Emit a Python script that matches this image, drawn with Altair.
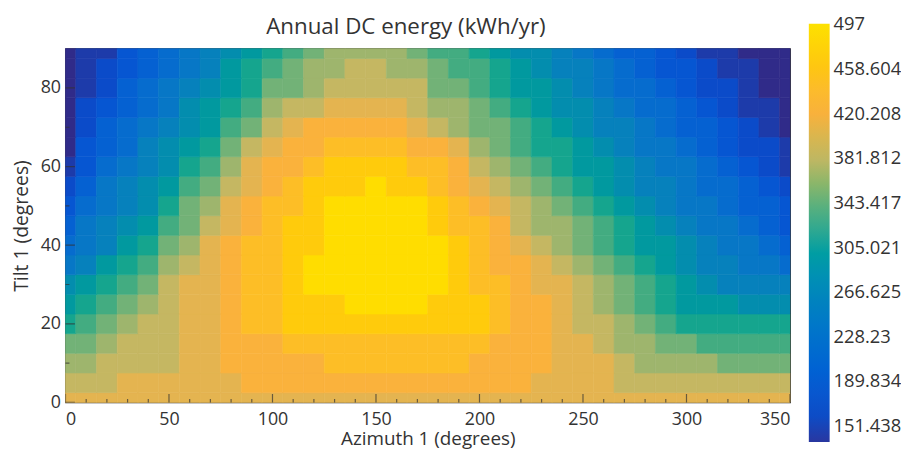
import altair as alt
import pandas as pd

# ---- grid coordinates -------------------------------------------------------
azimuth = [0, 10, 20, 30, 40, 50, 60, 70, 80, 90, 100, 110, 120, 130, 140, 150, 160, 170,
           180, 190, 200, 210, 220, 230, 240, 250, 260, 270, 280, 290, 300, 310, 320, 330, 340, 350]
tilt = [0, 5, 10, 15, 20, 25, 30, 35, 40, 45, 50, 55, 60, 65, 70, 75, 80, 85, 90]

# ---- annual DC energy (kWh/yr), one list per tilt row, azimuth 0..350 -------
e_t00 = [418] * 36
e_t05 = [392, 396, 400, 403, 406, 409, 413, 417, 420, 424, 427, 429, 430, 431, 431, 431, 431, 430,
         430, 429, 427, 424, 421, 418, 413, 407, 403, 400, 396, 393, 391, 389, 388, 388, 387, 388]
e_t10 = [371, 378, 385, 390, 394, 401, 410, 419, 424, 428, 432, 436, 438, 440, 442, 442, 442, 441,
         441, 441, 439, 433, 426, 421, 414, 407, 402, 391, 378, 370, 366, 363, 361, 360, 359, 359]
e_t15 = [346, 362, 375, 385, 392, 400, 410, 419, 426, 432, 439, 445, 450, 454, 457, 458, 457, 455,
         453, 450, 446, 439, 431, 424, 412, 403, 392, 378, 364, 354, 345, 340, 337, 335, 334, 334]
e_t20 = [320, 334, 352, 368, 383, 395, 405, 419, 430, 442, 455, 462, 468, 472, 474, 475, 475, 473,
         470, 465, 459, 448, 435, 423, 413, 401, 384, 366, 347, 329, 318, 312, 309, 308, 307, 308]
e_t25 = [297, 316, 336, 356, 374, 391, 404, 418, 430, 445, 458, 466, 472, 477, 481, 483, 482, 479,
         474, 468, 460, 449, 436, 424, 411, 396, 378, 358, 338, 318, 302, 292, 286, 283, 281, 281]
e_t30 = [267, 286, 313, 338, 362, 383, 404, 415, 429, 444, 458, 469, 479, 486, 491, 493, 492, 489,
         482, 472, 458, 443, 429, 416, 402, 385, 366, 347, 328, 309, 289, 276, 266, 259, 254, 251]
e_t35 = [241, 265, 290, 314, 340, 367, 392, 411, 427, 443, 456, 467, 478, 487, 493, 496, 495, 491,
         481, 468, 453, 438, 422, 406, 390, 374, 354, 335, 315, 298, 279, 265, 254, 245, 236, 228]
e_t40 = [217, 244, 265, 289, 318, 349, 379, 407, 425, 442, 454, 465, 477, 487, 494, 496, 496, 492,
         478, 463, 448, 432, 414, 395, 377, 362, 341, 322, 302, 286, 269, 254, 242, 231, 217, 205]
e_t45 = [200, 231, 253, 275, 301, 331, 362, 393, 416, 435, 448, 460, 473, 484, 490, 493, 491, 486,
         472, 457, 441, 421, 398, 381, 363, 346, 326, 308, 290, 274, 258, 245, 233, 220, 205, 189]
e_t50 = [183, 219, 242, 262, 285, 314, 346, 379, 408, 428, 443, 455, 469, 481, 485, 487, 485, 480,
         466, 450, 433, 410, 382, 366, 348, 330, 311, 294, 278, 262, 247, 236, 224, 208, 192, 172]
e_t55 = [165, 203, 230, 251, 272, 298, 328, 359, 393, 417, 434, 447, 460, 470, 476, 480, 476, 469,
         454, 437, 417, 392, 368, 351, 334, 316, 298, 282, 265, 251, 238, 225, 212, 195, 178, 159]
e_t60 = [148, 188, 218, 240, 260, 283, 310, 340, 378, 406, 425, 439, 451, 460, 464, 467, 463, 458,
         443, 424, 401, 374, 354, 337, 320, 302, 286, 270, 253, 241, 230, 215, 200, 183, 164, 146]
e_t65 = [131, 174, 205, 228, 249, 270, 295, 322, 354, 382, 407, 424, 437, 444, 448, 450, 446, 439,
         422, 402, 380, 359, 341, 323, 307, 290, 274, 259, 244, 231, 218, 203, 188, 169, 154, 138]
e_t70 = [129, 160, 192, 217, 238, 258, 280, 305, 330, 359, 389, 409, 423, 429, 433, 435, 430, 420,
         401, 380, 358, 344, 328, 310, 294, 278, 263, 248, 235, 221, 206, 192, 176, 155, 144, 131]
e_t75 = [127, 152, 181, 206, 228, 247, 268, 291, 316, 342, 367, 384, 398, 407, 414, 416, 410, 401,
         381, 364, 346, 331, 315, 298, 283, 267, 252, 238, 224, 210, 195, 181, 164, 148, 137, 128]
e_t80 = [124, 143, 170, 194, 217, 236, 255, 276, 302, 324, 344, 358, 372, 384, 394, 395, 390, 382,
         361, 348, 334, 318, 302, 286, 271, 256, 241, 228, 213, 199, 184, 169, 152, 140, 130, 124]
e_t85 = [126, 140, 161, 184, 207, 226, 246, 265, 288, 312, 332, 349, 364, 374, 382, 382, 377, 368,
         352, 339, 325, 309, 293, 278, 263, 248, 233, 218, 202, 188, 174, 160, 144, 134, 127, 123]
e_t90 = [127, 137, 151, 174, 196, 216, 236, 253, 273, 300, 320, 339, 355, 364, 369, 370, 364, 353,
         343, 329, 315, 300, 284, 270, 255, 239, 224, 208, 190, 176, 163, 150, 136, 128, 123, 122]

energy_rows = [e_t00, e_t05, e_t10, e_t15, e_t20, e_t25, e_t30, e_t35, e_t40, e_t45,
               e_t50, e_t55, e_t60, e_t65, e_t70, e_t75, e_t80, e_t85, e_t90]

# ---- contour levels and colour bar ------------------------------------------
levels = [132.24, 151.438, 170.64, 189.834, 209.03, 228.23, 247.43, 266.625, 285.82, 305.021,
          324.22, 343.417, 362.61, 381.812, 401.01, 420.208, 439.41, 458.604, 477.80]
band_colors = ["#302B89", "#1D3BAA", "#0B4BC9", "#0656D2", "#0561D2", "#066CCE", "#0777C6",
               "#0681BC", "#038DAE", "#01999F", "#15A58E", "#43AC81", "#72B277", "#9EB56D",
               "#C5B762", "#E4B450", "#FAB23C", "#FDBE26", "#FFCB0C", "#FFDD00"]
bar_labels = [151.438, 189.834, 228.23, 266.625, 305.021, 343.417, 381.812, 420.208, 458.604, 497]
bar_domain = [137.7, 151.438, 189.834, 228.23, 266.625, 305.021, 343.417, 381.812, 420.208,
              458.604, 497.6]
bar_colors = ["#28369E", "#0F47C2", "#065CD4", "#0671CC", "#0886BA", "#06A09E", "#5FB17B",
              "#C2B763", "#F8B13C", "#FEC513", "#FDE100"]

x_major = [0, 50, 100, 150, 200, 250, 300, 350]
x_minor = [10, 20, 30, 40, 60, 70, 80, 90, 110, 120, 130, 140, 160, 170, 180, 190,
           210, 220, 230, 240, 260, 270, 280, 290, 310, 320, 330, 340]
y_major = [0, 20, 40, 60, 80]
y_minor = [10, 30, 50, 70]

records = []
for t, row in zip(tilt, energy_rows):
    for a, e in zip(azimuth, row):
        records.append({"az": a, "tilt": t, "energy": e})
df = pd.DataFrame(records)

FONT = "Open Sans"
TXT = "#333333"
W, H = 731, 357

xscale = alt.Scale(domain=[0, 350], nice=False, zero=False)
yscale = alt.Scale(domain=[0, 90], nice=False, zero=False)
band_scale = alt.Scale(type="threshold", domain=levels, range=band_colors)
x_axis = alt.Axis(values=x_major, title="Azimuth 1 (degrees)", labelPadding=7.8,
                  titleY=42.5, titleBaseline="alphabetic", titleFontSize=19, format="d")
y_axis = alt.Axis(values=y_major, title="Tilt 1 (degrees)", labelPadding=5,
                  titleX=-38, titleY=H / 2, titleBaseline="alphabetic", titleAlign="center",
                  format="d")

heat = alt.Chart(df).mark_rect(strokeWidth=0.6).transform_calculate(
    x0="max(0, datum.az - 5)", x1="min(350, datum.az + 5)",
    y0="max(0, datum.tilt - 2.5)", y1="min(90, datum.tilt + 2.5)",
).encode(
    x=alt.X("x0:Q", scale=xscale, axis=x_axis),
    x2="x1:Q",
    y=alt.Y("y0:Q", scale=yscale, axis=y_axis),
    y2="y1:Q",
    color=alt.Color("energy:Q", scale=band_scale, legend=None),
    stroke=alt.Stroke("energy:Q", scale=band_scale, legend=None),
)

legend_layer = alt.Chart(df).mark_point(opacity=0).encode(
    x=alt.value(0), y=alt.value(0),
    color=alt.Color("energy:Q", scale=alt.Scale(domain=bar_domain, range=bar_colors),
                    legend=alt.Legend(type="gradient", orient="none", legendX=750, legendY=-25,
                                      direction="vertical", gradientLength=422,
                                      gradientThickness=21, gradientStrokeWidth=0,
                                      values=bar_labels, format=".6~g", title=None,
                                      labelFont=FONT, labelFontSize=18.5, labelColor=TXT,
                                      labelOffset=4, labelOverlap=False, padding=0)),
)

def xticks(vals, size):
    return alt.Chart(pd.DataFrame({"v": vals})).mark_tick(
        orient="vertical", size=size, thickness=1.2, color="#333333", clip=True
    ).encode(x=alt.X("v:Q", scale=xscale, axis=x_axis), y=alt.value(H))

def yticks(vals, size):
    return alt.Chart(pd.DataFrame({"v": vals})).mark_tick(
        orient="horizontal", size=size, thickness=1.2, color="#333333", clip=True
    ).encode(y=alt.Y("v:Q", scale=yscale, axis=y_axis), x=alt.value(0))

chart = alt.layer(
    heat, xticks(x_major, 17), xticks(x_minor, 7), yticks(y_major, 19), yticks(y_minor, 8),
    legend_layer,
).resolve_scale(color="independent").properties(
    width=W, height=H,
    title=alt.Title("Annual DC energy (kWh/yr)", font=FONT, fontSize=22.5, fontWeight="normal",
                    color=TXT, anchor="middle", dx=-22, dy=23, offset=8, frame="group"),
    padding={"left": 58, "top": 39, "right": 112, "bottom": 48},
    autosize=alt.AutoSizeParams(type="none"),
).configure_view(stroke="#222222", strokeWidth=1.2).configure_axis(
    labelFont=FONT, labelFontSize=18, labelColor=TXT, titleFont=FONT, titleFontSize=19.5,
    titleFontWeight="normal", titleColor=TXT, grid=False, domain=False, ticks=False, tickSize=0,
)

chart.save("out.html", embed_options={"renderer": "svg", "actions": False})
